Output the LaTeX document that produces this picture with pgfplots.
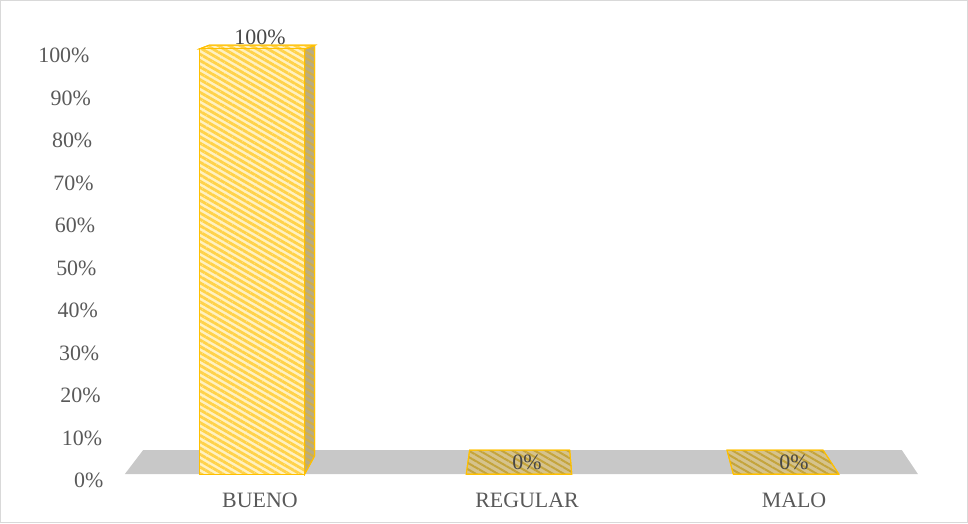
\documentclass[border=0pt]{standalone}
\usepackage{pgfplots}
\pgfplotsset{compat=1.18}
\usetikzlibrary{patterns.meta}
\usepackage{fontspec}
\setmainfont{Liberation Serif}
\definecolor{txt}{HTML}{595959}
\definecolor{floorc}{HTML}{C8C8C8}
\definecolor{ybg}{HTML}{FFF1C0}
\definecolor{ystr}{HTML}{FFD24A}
\definecolor{yedge}{HTML}{FFC000}
\definecolor{sidebg}{HTML}{B8AC85}
\definecolor{sidestr}{HTML}{D2B048}
\definecolor{flatbg}{HTML}{D6C38C}
\definecolor{flatstr}{HTML}{C4A43C}
\definecolor{framec}{HTML}{D9D9D9}
\begin{document}
\begin{tikzpicture}
\begin{axis}[
  scale only axis, width=830bp, height=464bp,
  xmin=-0.5618, xmax=2.5468, ymin=-2.353, ymax=106.82,
  axis line style={draw=none}, tick style={draw=none}, major tick length=0pt,
  xtick={0,1,2}, xticklabels={BUENO,REGULAR,MALO},
  ytick={0,10,...,100},
  yticklabels={0\%,10\%,20\%,30\%,40\%,50\%,60\%,70\%,80\%,90\%,100\%},
  ticklabel style={font=\fontsize{22}{26}\selectfont, text=txt},
  xticklabel style={yshift=-5bp},
  yticklabel style={yshift=-6.5bp, xshift={-3bp-1.4bp*\ticknum}},
  clip=false,
]
% floor
\addplot[fill=floorc, draw=none] coordinates {(-0.506,0) (-0.438,5.6) (2.404,5.6) (2.464,0)} -- cycle;
% BUENO side and top faces
\addplot[fill=sidebg, draw=yedge, line width=1bp,
  postaction={pattern={Lines[angle=-30,distance=5.5bp,line width=2.2bp]}, pattern color=sidestr}]
  coordinates {(0.1675,0) (0.205,4.3) (0.205,100.8) (0.1675,100)} -- cycle;
\addplot[fill=ybg, draw=yedge, line width=1bp,
  postaction={pattern={Lines[angle=-30,distance=5.5bp,line width=2.8bp]}, pattern color=ystr}]
  coordinates {(-0.2275,100) (0.1675,100) (0.205,100.9) (-0.19,100.9)} -- cycle;
% flat zero bars
\addplot[fill=flatbg, draw=yedge, line width=1bp,
  postaction={pattern={Lines[angle=-30,distance=5.5bp,line width=2bp]}, pattern color=flatstr}]
  coordinates {(0.7725,0) (1.1675,0) (1.16,5.6) (0.785,5.6)} -- cycle;
\addplot[fill=flatbg, draw=yedge, line width=1bp,
  postaction={pattern={Lines[angle=-30,distance=5.5bp,line width=2bp]}, pattern color=flatstr}]
  coordinates {(1.7725,0) (2.1675,0) (2.109,5.6) (1.749,5.6)} -- cycle;
% bars
\addplot[ybar, bar width=0.395, bar shift=-0.03, fill=ybg, draw=yedge, line width=1bp,
  postaction={pattern={Lines[angle=-30,distance=5.5bp,line width=2.8bp]}, pattern color=ystr},
  nodes near coords={\pgfmathprintnumber[assume math mode=true]{\pgfplotspointmeta}\%},
  every node near coord/.append style={font=\fontsize{22}{26}\selectfont, text=txt!80!black}]
  coordinates {(0,100) (1,0) (2,0)};
\draw[framec, line width=1bp] (rel axis cs:-0.1319,-0.0830) rectangle (rel axis cs:1.0331,1.0420);
\end{axis}
\end{tikzpicture}
\end{document}
